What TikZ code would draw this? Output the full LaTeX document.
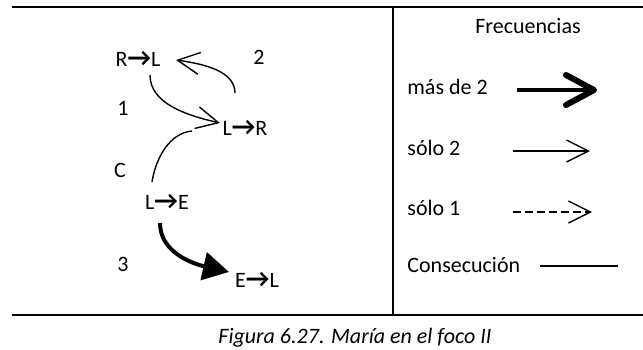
\documentclass[tikz,border=0pt]{standalone}
\usepackage{fontspec}
\setmainfont{Carlito}
\usetikzlibrary{arrows.meta,calc}
\newcommand{\flecha}{{\bfseries\fontsize{13}{13}\selectfont →}}

\begin{document}
\begin{tikzpicture}[x=0.5pt,y=-0.5pt, font=\fontsize{11}{13}\selectfont,
  every node/.style={inner sep=0pt},
  frame/.style={line width=1.1pt},
  solo2/.style={line width=0.7pt, -{Straight Barb[length=11pt,width=11pt]}},
  solo1/.style={solo2, dash pattern=on 4pt off 2pt},
  masde2/.style={line width=2.4pt, -{Straight Barb[length=14pt,width=15pt,line width=3pt,round]}},
  fuerte/.style={line width=2pt, -{Triangle[length=13pt,width=14pt]}},
  consec/.style={line width=0.7pt}]
\useasboundingbox (0,0) rectangle (643,349);
\draw[frame] (12,7) -- (643,7) (12,315) -- (643,315) (393,7) -- (393,315);
% diagrama
\node (rl) at (138,59) {R\flecha L};
\node (lr) at (245,128) {L\flecha R};
\node (le) at (167,202) {L\flecha E};
\node (el) at (257,280) {E\flecha L};
\node (n2) at (259,57) {2};
\node (n1) at (123,108) {1};
\node (nc) at (120,170) {C};
\node (n3) at (123,264) {3};
\draw[solo2] ($(rl)+(12,16)$) .. controls +(0,28) and +(-35,-8) .. ($(lr)+(-25,-5)$);
\draw[solo2] ($(lr)+(-10,-35)$) .. controls +(0,-22) and +(28,4) .. ($(rl)+(38,1)$);
\draw[consec] ($(le)+(-15,-20)$) .. controls +(4,-25) and +(-22,2) .. ($(lr)+(-53,3)$);
\draw[fuerte] ($(le)+(-7,21)$) .. controls +(0,30) and +(-35,-8) .. ($(el)+(-28,-8)$);
% leyenda
\node (freq) at (528,26) {Frecuencias};
\node[anchor=west] (mas) at (407,87) {más de 2};
\node[anchor=west] (s2) at (407,148) {sólo 2};
\node[anchor=west] (s1) at (407,208) {sólo 1};
\node[anchor=west] (cons) at (407,265) {Consecución};
\coordinate (mas-a) at (517,90); \coordinate (mas-b) at (597,90);
\coordinate (s2-a) at (513,151); \coordinate (s2-b) at (590,151);
\coordinate (s1-a) at (513,212); \coordinate (s1-b) at (592,212);
\coordinate (cons-a) at (540,266); \coordinate (cons-b) at (618,266);
\draw[masde2] (mas-a) -- (mas-b);
\draw[solo2] (s2-a) -- (s2-b);
\draw[solo1] (s1-a) -- (s1-b);
\draw[consec] (cons-a) -- (cons-b);
\node[font=\fontsize{11}{13}\selectfont\itshape] (cap) at (355,338) {Figura 6.27. María en el foco II};
\end{tikzpicture}
\end{document}
